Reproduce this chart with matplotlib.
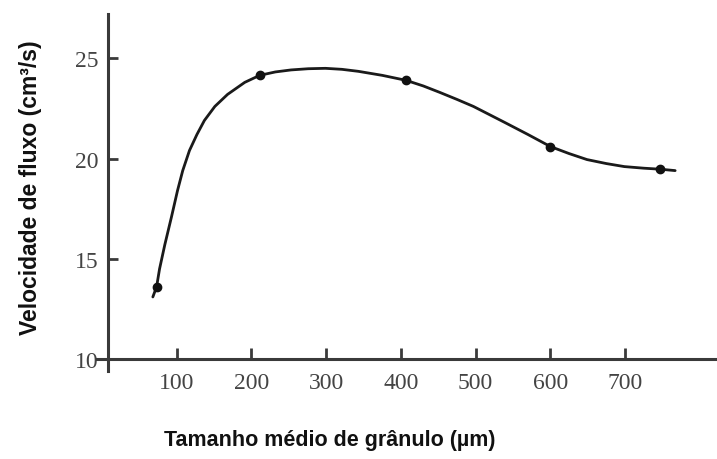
import matplotlib
matplotlib.use("Agg")
import matplotlib.pyplot as plt

# measured points (granule size in um, flow rate in cm3/s)
size_pts = [73, 211, 407, 600, 747]
flow_pts = [13.6, 24.15, 23.9, 20.6, 19.5]

# fitted curve
curve_x = [68, 73, 77, 84, 93, 101, 108, 117, 127, 137, 151, 168, 191, 211,
           232, 253, 276, 299, 321, 343, 375, 407, 430, 452, 475, 497, 518,
           539, 570, 600, 625, 649, 675, 699, 725, 747, 767]
curve_y = [13.1, 13.6, 14.5, 15.7, 17.1, 18.4, 19.4, 20.4, 21.2, 21.9, 22.6,
           23.2, 23.8, 24.15, 24.32, 24.42, 24.48, 24.5, 24.45, 24.35, 24.15,
           23.9, 23.62, 23.3, 22.95, 22.6, 22.2, 21.8, 21.2, 20.6, 20.25,
           19.95, 19.75, 19.6, 19.52, 19.47, 19.4]

xticks = [100, 200, 300, 400, 500, 600, 700]
yticks = [10, 15, 20, 25]

axis_color = "#3a3a3a"

fig = plt.figure(figsize=(7.17, 4.6), dpi=100)
ax = fig.add_axes([0.135, 0.191, 0.865, 0.776])

ax.plot(curve_x, curve_y, color="#1a1a1a", linewidth=2.0,
        solid_capstyle="round", solid_joinstyle="round")
ax.plot(size_pts, flow_pts, "o", color="#111111", markersize=6)

ax.set_xlim(-7, 823)
ax.set_ylim(9.4, 27.2)
ax.set_xticks(xticks)
ax.set_yticks(yticks)

ax.spines["top"].set_visible(False)
ax.spines["right"].set_visible(False)
ax.spines["bottom"].set_position(("data", 10))
ax.spines["left"].set_position(("data", 8))
for s in ("bottom", "left"):
    ax.spines[s].set_linewidth(2.2)
    ax.spines[s].set_color(axis_color)

ax.tick_params(axis="x", direction="in", length=8, width=2, color=axis_color, pad=9)
ax.tick_params(axis="y", direction="in", length=7, width=2, color=axis_color, pad=7)
for lbl in ax.get_xticklabels() + ax.get_yticklabels():
    lbl.set_fontfamily("Liberation Serif")
    lbl.set_fontsize(17)
    lbl.set_color("#444444")

fig.text(0.043, 0.593, "Velocidade de fluxo (cm³/s)", rotation=90,
         ha="center", va="center", fontsize=16.5, fontweight="bold",
         family="Liberation Sans", color="#111111")
fig.text(0.460, 0.043, "Tamanho médio de grânulo (µm)",
         ha="center", va="center", fontsize=15.5, fontweight="bold",
         family="Liberation Sans", color="#111111")

fig.savefig("out.png", dpi=100)
